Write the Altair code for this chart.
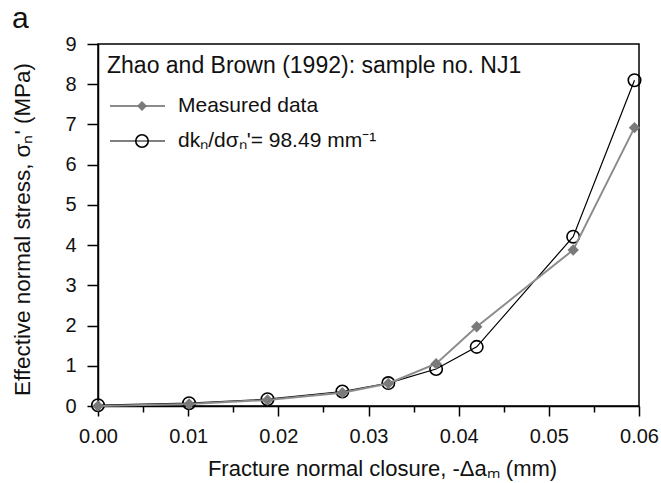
import altair as alt
import pandas as pd

# Data
closure = [0.0, 0.0101, 0.0188, 0.0271, 0.0322, 0.0375, 0.0420, 0.0527, 0.0595]
measured = [0.0, 0.05, 0.15, 0.33, 0.56, 1.05, 1.97, 3.88, 6.92]
model = [0.02, 0.07, 0.17, 0.36, 0.57, 0.92, 1.47, 4.21, 8.10]

x_ticks = [round(i * 0.005, 3) for i in range(13)]
y_ticks = list(range(10))

x_title = "Fracture normal closure, -Δaₘ (mm)"
y_title = "Effective normal stress, σₙ' (MPa)"
panel_label = "a"
legend_title = "Zhao and Brown (1992): sample no. NJ1"
legend_labels = ["Measured data", "dkₙ/dσₙ'= 98.49 mm⁻¹"]

FONT = "Liberation Sans"
GRAY_LINE = "#8c8c8c"
GRAY_FILL = "#7a7a7a"
TXT = "#111"

df = pd.DataFrame({"x": closure, "measured": measured, "model": model})

xscale = alt.Scale(domain=[0, 0.06], nice=False, zero=False)
yscale = alt.Scale(domain=[0, 9], nice=False, zero=False)

MAJOR_TEST = "round(datum.value*200) % 2 === 0"

xaxis = alt.Axis(
    values=x_ticks,
    labelExpr=MAJOR_TEST + " ? format(datum.value, '.2f') : ''",
    labelFlush=False,
    labelOverlap=False,
    tickSize={"condition": {"test": MAJOR_TEST, "value": 10}, "value": 6},
    tickColor="black",
    tickWidth=1.5,
    domainColor="black",
    domainWidth=1.5,
    labelFont=FONT,
    labelFontSize=20,
    labelColor=TXT,
    labelPadding=10,
    grid=False,
    title=x_title,
    titleFont=FONT,
    titleFontSize=22,
    titleFontWeight="normal",
    titleColor=TXT,
    titleX=284,
    titleY=69,
    titleAlign="center",
    titleBaseline="alphabetic",
)
yaxis = alt.Axis(
    values=y_ticks,
    labelFlush=False,
    labelOverlap=False,
    tickSize=11,
    tickColor="black",
    tickWidth=1.5,
    domainColor="black",
    domainWidth=1.5,
    labelFont=FONT,
    labelFontSize=20,
    labelColor=TXT,
    labelPadding=11,
    grid=False,
    title=y_title,
    titleFont=FONT,
    titleFontSize=22.4,
    titleFontWeight="normal",
    titleColor=TXT,
    titleX=-76,
    titleY=185,
    titleAngle=270,
    titleAlign="center",
    titleBaseline="middle",
)

base = alt.Chart(df)

model_line = base.mark_line(color="black", strokeWidth=1.2).encode(
    x=alt.X("x:Q", scale=xscale, axis=xaxis),
    y=alt.Y("model:Q", scale=yscale, axis=yaxis),
)
model_pts = base.mark_point(
    shape="circle", size=155, filled=False, color="black", strokeWidth=1.6, opacity=1
).encode(x=alt.X("x:Q", scale=xscale), y=alt.Y("model:Q", scale=yscale))

meas_line = base.mark_line(color=GRAY_LINE, strokeWidth=2).encode(
    x=alt.X("x:Q", scale=xscale), y=alt.Y("measured:Q", scale=yscale)
)
meas_pts = base.mark_point(
    shape="diamond", size=130, filled=True, color=GRAY_FILL, opacity=1
).encode(x=alt.X("x:Q", scale=xscale), y=alt.Y("measured:Q", scale=yscale))

# Manual legend (inside the plot, top-left)
one = alt.Chart(pd.DataFrame({"k": [0]}))
leg_title = one.mark_text(
    text=legend_title, font=FONT, fontSize=23, align="left", baseline="middle", color=TXT
).encode(x=alt.value(9), y=alt.value(22))
leg_line1 = one.mark_rule(color=GRAY_LINE, strokeWidth=2).encode(
    x=alt.value(12), x2=alt.value(67), y=alt.value(62)
)
leg_pt1 = one.mark_point(shape="diamond", size=100, filled=True, color=GRAY_FILL, opacity=1).encode(
    x=alt.value(44), y=alt.value(62)
)
leg_txt1 = one.mark_text(
    text=legend_labels[0], font=FONT, fontSize=21, align="left", baseline="middle", color=TXT
).encode(x=alt.value(80), y=alt.value(62))
leg_line2 = one.mark_rule(color="black", strokeWidth=1.2).encode(
    x=alt.value(12), x2=alt.value(67), y=alt.value(97)
)
leg_pt2 = one.mark_point(shape="circle", size=155, filled=False, color="black", strokeWidth=1.6, opacity=1).encode(
    x=alt.value(44), y=alt.value(97)
)
leg_txt2 = one.mark_text(
    text=legend_labels[1], font=FONT, fontSize=21, align="left", baseline="middle", color=TXT
).encode(x=alt.value(80), y=alt.value(97))

panel = one.mark_text(
    text=panel_label, font=FONT, fontSize=30, align="left", baseline="middle", color=TXT
).encode(x=alt.value(-86), y=alt.value(-25))

chart = alt.layer(
    model_line, model_pts, meas_line, meas_pts,
    leg_title, leg_line1, leg_pt1, leg_txt1, leg_line2, leg_pt2, leg_txt2, panel,
).properties(
    width=541,
    height=362,
    autosize=alt.AutoSizeParams(type="none"),
    padding={"left": 98, "top": 44, "right": 22, "bottom": 77},
    background="white",
).configure_view(stroke="black", strokeWidth=1.5)

chart.save("out.html", embed_options={"renderer": "svg", "actions": False})
